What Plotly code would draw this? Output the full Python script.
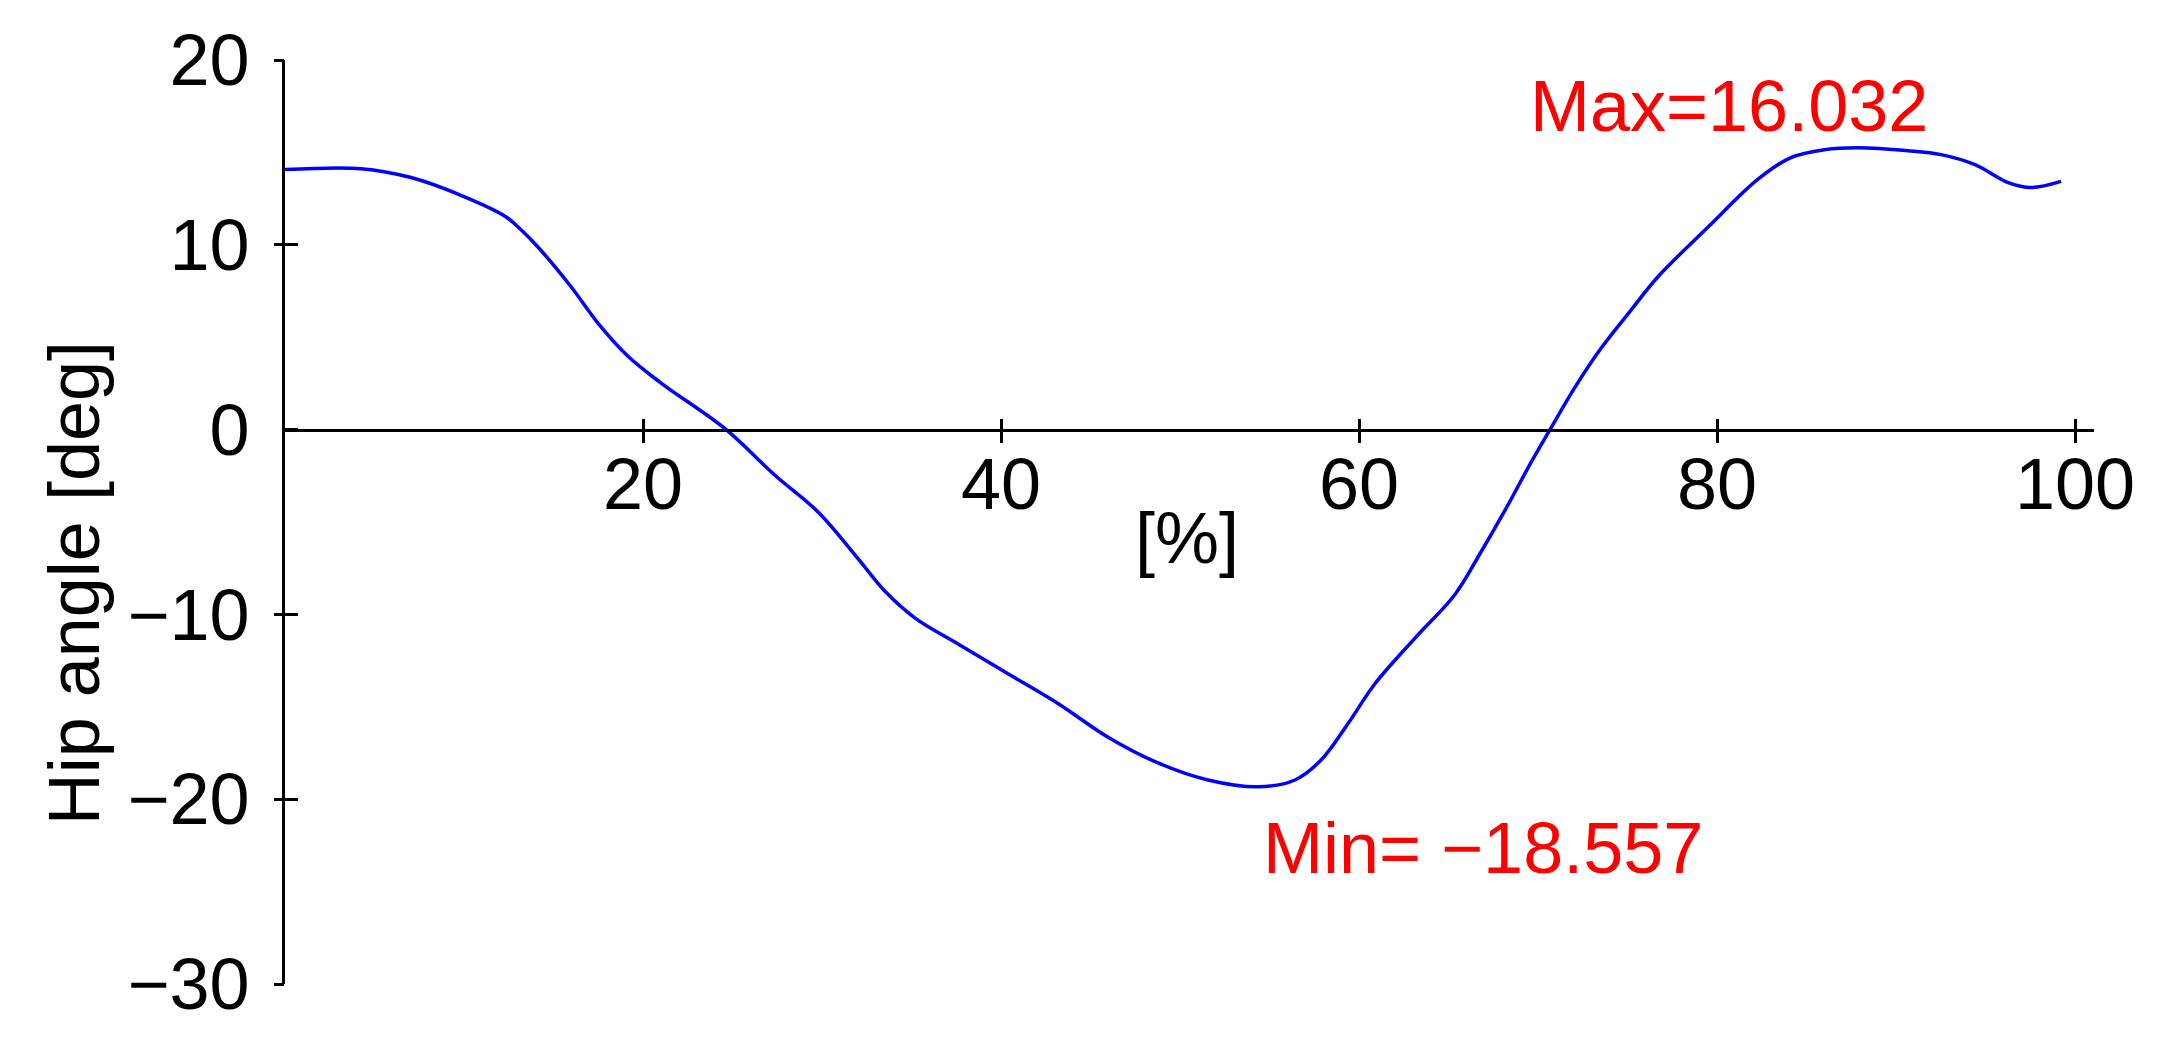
import plotly.graph_objects as go

# Gait cycle [%] and hip angle [deg]
cycle_pct = [0.0, 4.25, 7.04, 9.83, 12.29, 13.20, 14.13, 15.98, 17.49, 19.16, 21.01, 24.58,
             27.37, 29.78, 32.01, 33.52, 35.20, 37.60, 40.39, 43.18, 45.98, 48.77,
             51.56, 54.36, 56.42, 57.88, 59.39, 60.89, 63.13, 65.36, 66.82, 68.32,
             69.61, 70.67, 72.07, 73.52, 75.14, 76.70, 79.50, 82.29, 84.13, 86.03,
             87.88, 90.67, 92.51, 94.41, 96.26, 97.54, 99.22]
hip_angle = [14.07, 14.12, 13.64, 12.68, 11.55, 10.80, 9.88, 7.73, 5.75, 3.97, 2.52, 0.05,
             -2.47, -4.46, -6.98, -8.75, -10.20, -11.60, -13.21, -14.82, -16.65, -18.04,
             -18.96, -19.33, -18.96, -17.88, -15.90, -13.75, -11.28, -8.92, -6.61, -4.08,
             -1.77, 0.0, 2.30, 4.40, 6.40, 8.27, 10.96, 13.55, 14.72, 15.15,
             15.25, 15.09, 14.88, 14.34, 13.37, 13.10, 13.43]

x_tickvals = [20, 40, 60, 80, 100]
x_ticktext = ["20", "40", "60", "80", "100"]
y_tickvals = [-30, -20, -10, 0, 10, 20]
y_ticktext = ["\u221230", "\u221220", "\u221210", "0", "10", "20"]
y_outer_ticks = [-30, -20, -10, 10, 20]

max_label = "Max=16.032"
min_label = "Min= \u221218.557"
x_title = "[%]"
y_title = "Hip angle [deg]"

X_RANGE = [0, 101.06]
Y_RANGE = [-30, 20]
FONT = "Arial, Liberation Sans, sans-serif"
FS = 72

fig = go.Figure()
fig.add_trace(go.Scatter(x=cycle_pct, y=hip_angle, mode="lines",
                         line=dict(color="#0000FF", width=3.5, shape="spline", smoothing=1.0),
                         showlegend=False, hoverinfo="skip", cliponaxis=False))
# empty trace for overlay axes (other tick halves)
fig.add_trace(go.Scatter(x=[], y=[], xaxis="x2", yaxis="y2", showlegend=False))

fig.update_layout(
    width=2157, height=1047,
    margin=dict(l=277, r=71, t=45, b=71),
    paper_bgcolor="white", plot_bgcolor="white",
    font=dict(family=FONT, color="black", size=FS),
    xaxis=dict(range=X_RANGE, anchor="free", position=0.6, showgrid=False, zeroline=False,
               showline=True, linecolor="black", linewidth=3,
               tickmode="array", tickvals=x_tickvals, ticktext=x_ticktext,
               ticks="outside", ticklen=11, tickwidth=3, tickcolor="black",
               tickfont=dict(size=FS, family=FONT), ticklabelstandoff=-20),
    yaxis=dict(range=Y_RANGE, showgrid=False, zeroline=False,
               showline=True, linecolor="black", linewidth=3,
               tickmode="array", tickvals=y_tickvals, ticktext=y_ticktext,
               ticks="inside", ticklen=13, tickwidth=3, tickcolor="black",
               tickfont=dict(size=FS, family=FONT), ticklabelstandoff=18),
    xaxis2=dict(range=X_RANGE, overlaying="x", anchor="free", position=0.6, side="bottom",
                showgrid=False, zeroline=False, showline=False,
                tickmode="array", tickvals=x_tickvals, showticklabels=False,
                ticks="inside", ticklen=11, tickwidth=3, tickcolor="black"),
    yaxis2=dict(range=Y_RANGE, overlaying="y", side="left", showgrid=False, zeroline=False,
                showline=False, tickmode="array", tickvals=y_outer_ticks, showticklabels=False,
                ticks="outside", ticklen=10, tickwidth=3, tickcolor="black"),
    annotations=[
        dict(text=max_label, x=0.7982, y=0.9506, xref="paper", yref="paper",
             showarrow=False, font=dict(size=FS, color="#FF0000", family=FONT),
             xanchor="center", yanchor="middle"),
        dict(text=min_label, x=0.6623, y=0.1472, xref="paper", yref="paper",
             showarrow=False, font=dict(size=FS, color="#FF0000", family=FONT),
             xanchor="center", yanchor="middle"),
        dict(text=x_title, x=0.4986, y=0.4823, xref="paper", yref="paper",
             showarrow=False, font=dict(size=FS, color="black", family=FONT),
             xanchor="center", yanchor="middle"),
        dict(text=y_title, x=-0.1165, y=0.4339, xref="paper", yref="paper",
             showarrow=False, textangle=-90, font=dict(size=FS, color="black", family=FONT),
             xanchor="center", yanchor="middle"),
    ],
)

fig.write_html("out.html")
